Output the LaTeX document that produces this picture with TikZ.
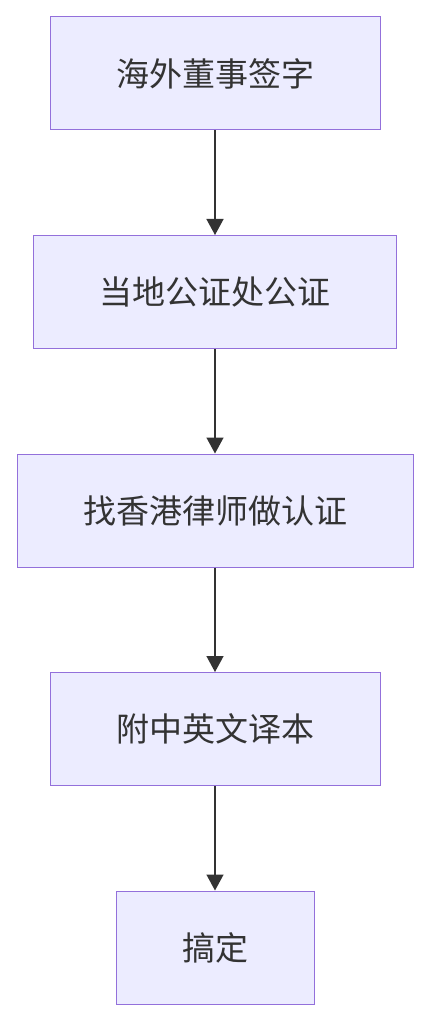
\documentclass[tikz,border=0pt]{standalone}
\usepackage{fontspec}
\setmainfont{Noto Sans CJK SC}
\usetikzlibrary{arrows.meta,positioning}
\definecolor{boxfill}{HTML}{ECECFF}
\definecolor{boxline}{HTML}{9370DB}
\definecolor{ink}{HTML}{333333}
\tikzset{
  stepbox/.style={draw=boxline,fill=boxfill,line width=1pt,text=ink,
    font=\fontsize{33}{40}\selectfont,minimum height=113pt,inner xsep=66pt},
  flow/.style={draw=ink,line width=1.5pt,-{Triangle[length=16pt,width=17pt]}}
}
\begin{document}
\begin{tikzpicture}
   \useasboundingbox (0,0) rectangle (430pt,-1024pt);
   \node [stepbox] (sign) at (215pt,-73.5pt) {海外董事签字};
   \node [stepbox,below=104.5pt of sign] (notary) {当地公证处公证};
   \node [stepbox,below=104.5pt of notary] (lawyer) {找香港律师做认证};
   \node [stepbox,below=104.5pt of lawyer] (transl) {附中英文译本};
   \node [stepbox,below=104.5pt of transl] (done) {搞定};
   \draw [flow] (sign) -- (notary);
   \draw [flow] (notary) -- (lawyer);
   \draw [flow] (lawyer) -- (transl);
   \draw [flow] (transl) -- (done);
  \end{tikzpicture}
\end{document}
